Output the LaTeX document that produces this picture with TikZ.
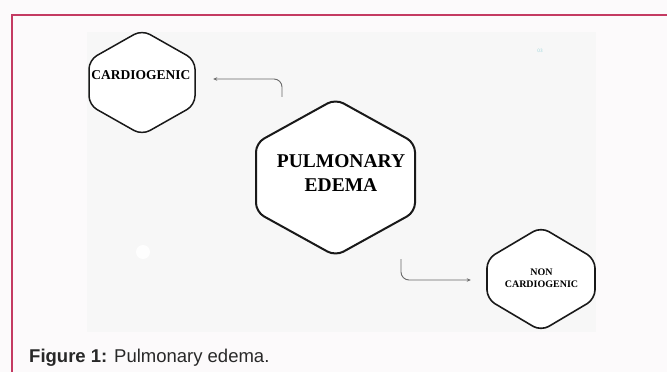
\documentclass[tikz,border=0pt]{standalone}
\usepackage{fontspec}
\setmainfont{Liberation Serif}
\newfontfamily\capfont{Liberation Sans}
\usetikzlibrary{calc,arrows.meta}
\definecolor{framered}{RGB}{196,58,98}
\definecolor{pagebg}{RGB}{252,250,251}
\definecolor{imgbg}{RGB}{247,247,247}
\definecolor{conngray}{RGB}{105,105,105}
\definecolor{hexink}{RGB}{25,25,25}
\definecolor{capink}{RGB}{40,40,40}
\definecolor{faintcyan}{RGB}{160,215,220}
\newcommand\hexoutline[5]{%
  \draw[hexink, line width=#5, fill=white, rounded corners=9pt]
    ($(#1.center)+(0,#3)$) -- ($(#1.center)+(#2,#4)$) -- ($(#1.center)+(#2,-#4)$)
    -- ($(#1.center)+(0,-#3)$) -- ($(#1.center)+(-#2,-#4)$) -- ($(#1.center)+(-#2,#4)$) -- cycle;}
\begin{document}
\begin{tikzpicture}[x=1pt,y=1pt,
  hexbox/.style={inner sep=0pt, draw=none},
  conn/.style={draw=conngray, line width=0.9pt, rounded corners=8pt, -{Stealth[length=4pt,width=3.5pt]}},
  lbl/.style={align=center, text=black, inner sep=0pt}]
\useasboundingbox (0,0) rectangle (667,372);
\fill[pagebg] (0,0) rectangle (667,372);
\fill[imgbg] (87,40) rectangle (596,340);
\draw[framered, line width=1.5pt] (12,0) -- (12,357) -- (667,357);
\fill[white, opacity=0.9] (143,120) circle (7);
\node[text=faintcyan, font=\sffamily\fontsize{5}{6}\selectfont] (pagenum) at (540,321) {03};
\node[hexbox, minimum width=106pt, minimum height=105pt] (cardio) at (142,289.5) {};
\node[hexbox, minimum width=159pt, minimum height=157pt] (main) at (335.5,194.5) {};
\node[hexbox, minimum width=108pt, minimum height=104pt] (non) at (541,93) {};
\hexoutline{cardio}{53}{52.5}{22.5}{1.5pt}
\hexoutline{main}{79.5}{78.5}{34.5}{2pt}
\hexoutline{non}{54}{52}{20}{1.6pt}
\node[lbl, font=\bfseries\fontsize{13.5}{16}\selectfont] (cardiotext) at (141,297) {CARDIOGENIC};
\node[lbl, font=\bfseries\fontsize{19.5}{24.5}\selectfont] (maintext) at (341,199) {PULMONARY\\EDEMA};
\node[lbl, font=\bfseries\fontsize{10}{12}\selectfont] (nontext) at (541.5,94) {NON\\CARDIOGENIC};
\draw[conn] ([xshift=-53.5pt,yshift=2pt]main.north) |- ([xshift=18pt,yshift=3.5pt]cardio.east);
\draw[conn] ([xshift=65.5pt,yshift=-3pt]main.south) |- ([xshift=-16pt,yshift=-1pt]non.west);
\node[anchor=base west, inner sep=0pt, text=capink, font=\capfont\fontsize{18.5}{21}\selectfont] (caption) at (29,9) {\textbf{Figure 1:} Pulmonary edema.};
\end{tikzpicture}
\end{document}
